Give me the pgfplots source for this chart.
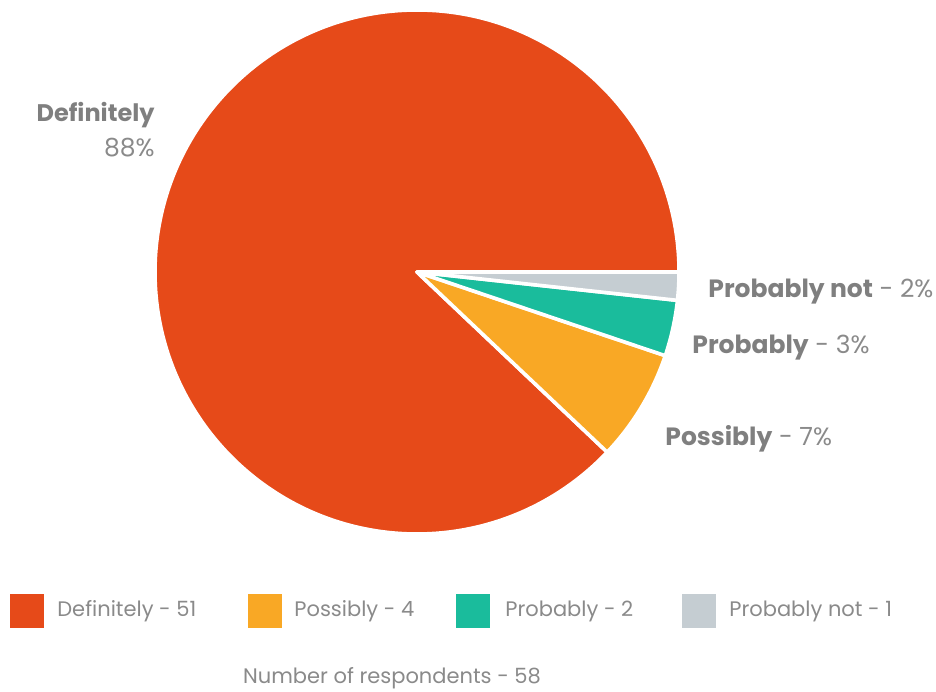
\documentclass[border=0pt]{standalone}
\usepackage{pgfplots}
\pgfplotsset{compat=1.18}
\usepackage{fontspec}
\setmainfont{Poppins}
\definecolor{cDef}{HTML}{E64A19}
\definecolor{cPos}{HTML}{F9A825}
\definecolor{cProb}{HTML}{1ABC9C}
\definecolor{cNot}{HTML}{C5CDD2}
\definecolor{tgrey}{HTML}{7F7F7F}
\definecolor{lgrey}{HTML}{8A8A8A}
% values
\def\vA{51}\def\vB{4}\def\vC{2}\def\vD{1}
\pgfmathsetmacro\tot{\vA+\vB+\vC+\vD}
\pgfmathsetmacro\aA{\vA/\tot*360}
\pgfmathsetmacro\aB{\aA+\vB/\tot*360}
\pgfmathsetmacro\aC{\aB+\vC/\tot*360}
\pgfmathsetmacro\aD{\aC+\vD/\tot*360}
\begin{document}
\begin{tikzpicture}
\begin{axis}[
  width=468pt, height=345.5pt, scale only axis,
  xmin=0, xmax=936, ymin=0, ymax=691,
  hide axis, clip=false,
]
\coordinate (BL) at (axis cs:0,0);
\coordinate (TR) at (axis cs:936,691);
\def\R{131pt}
\fill[cDef, draw=white, line width=1.8pt, line join=round] (axis cs:417,419) -- ++(0:\R) arc[start angle=0, end angle=\aA, radius=\R] -- cycle;
\fill[cPos, draw=white, line width=1.8pt, line join=round] (axis cs:417,419) -- ++(\aA:\R) arc[start angle=\aA, end angle=\aB, radius=\R] -- cycle;
\fill[cProb, draw=white, line width=1.8pt, line join=round] (axis cs:417,419) -- ++(\aB:\R) arc[start angle=\aB, end angle=\aC, radius=\R] -- cycle;
\fill[cNot, draw=white, line width=1.8pt, line join=round] (axis cs:417,419) -- ++(\aC:\R) arc[start angle=\aC, end angle=\aD, radius=\R] -- cycle;
% legend markers
\addplot[only marks, mark=square*, mark size=8.25pt, color=cDef] coordinates {(27,80)};
\addplot[only marks, mark=square*, mark size=8.25pt, color=cPos] coordinates {(264.5,80)};
\addplot[only marks, mark=square*, mark size=8.25pt, color=cProb] coordinates {(472.5,80)};
\addplot[only marks, mark=square*, mark size=8.25pt, color=cNot] coordinates {(698.5,80)};
% legend texts
\node[anchor=west, inner sep=0pt, font=\fontsize{10.5}{12}\selectfont, text=lgrey] at (axis cs:57,80) {Definitely - 51};
\node[anchor=west, inner sep=0pt, font=\fontsize{10.5}{12}\selectfont, text=lgrey] at (axis cs:294,80) {Possibly - 4};
\node[anchor=west, inner sep=0pt, font=\fontsize{10.5}{12}\selectfont, text=lgrey] at (axis cs:505,80) {Probably - 2};
\node[anchor=west, inner sep=0pt, font=\fontsize{10.5}{12}\selectfont, text=lgrey] at (axis cs:729,80) {Probably not - 1};
\node[anchor=center, inner sep=0pt, font=\fontsize{10.5}{12}\selectfont, text=lgrey] at (axis cs:392,13) {Number of respondents - 58};
% slice labels
\node[anchor=east, inner sep=0pt, font=\fontsize{12}{15}\selectfont\bfseries, text=tgrey] at (axis cs:155,576) {Definitely};
\node[anchor=east, inner sep=0pt, font=\fontsize{12.5}{15}\selectfont, text=lgrey] at (axis cs:155,543) {88\%};
\node[anchor=west, inner sep=0pt, font=\fontsize{12.5}{15}\selectfont, text=tgrey] at (axis cs:708,399) {\textbf{Probably not} \textcolor{lgrey}{- 2\%}};
\node[anchor=west, inner sep=0pt, font=\fontsize{12.5}{15}\selectfont, text=tgrey] at (axis cs:692,343) {\textbf{Probably} \textcolor{lgrey}{- 3\%}};
\node[anchor=west, inner sep=0pt, font=\fontsize{12.5}{15}\selectfont, text=tgrey] at (axis cs:665,252) {\textbf{Possibly} \textcolor{lgrey}{- 7\%}};
\end{axis}
\pgfresetboundingbox
\useasboundingbox (BL) rectangle (TR);
\end{tikzpicture}
\end{document}
